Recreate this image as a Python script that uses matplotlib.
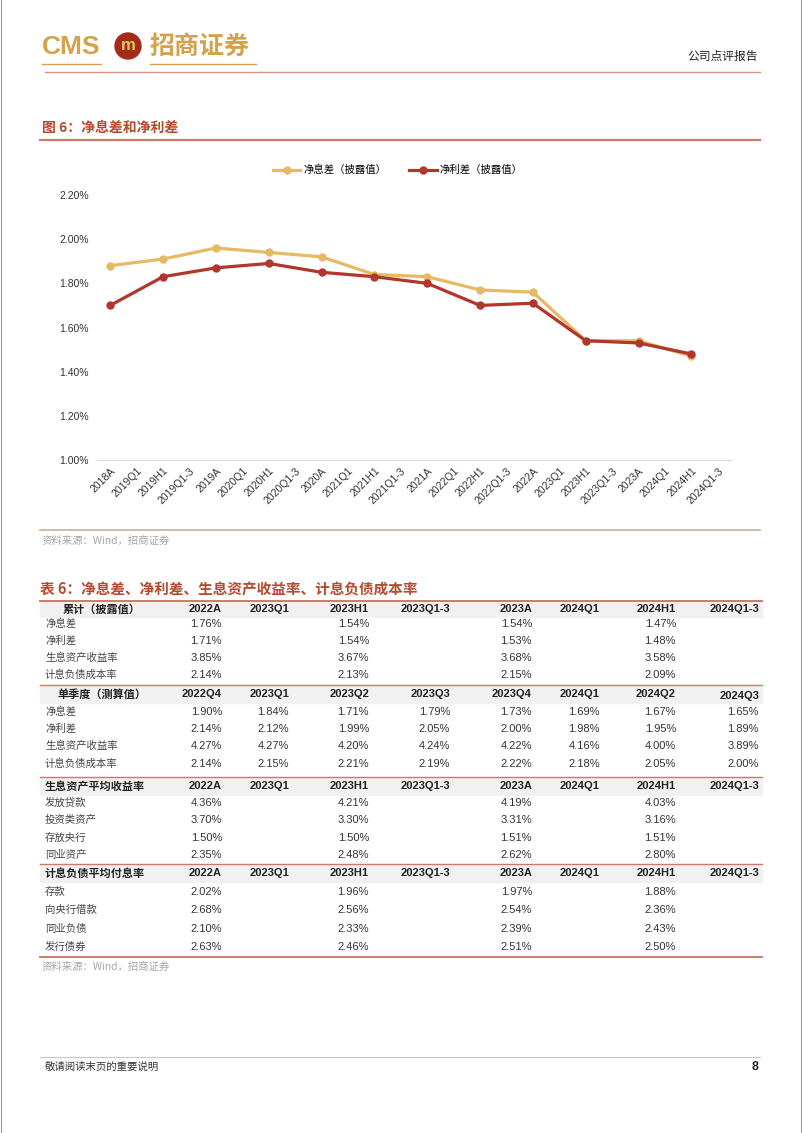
import matplotlib
matplotlib.use("Agg")
import matplotlib.pyplot as plt
from matplotlib.lines import Line2D
from matplotlib.patches import Ellipse, Rectangle
import numpy as np

plt.rcParams['font.family'] = ['Liberation Sans', 'Noto Sans CJK SC', 'DejaVu Sans']

# ---------------- data ----------------
periods = ['2018A', '2019Q1', '2019H1', '2019Q1-3', '2019A', '2020Q1', '2020H1', '2020Q1-3',
           '2020A', '2021Q1', '2021H1', '2021Q1-3', '2021A', '2022Q1', '2022H1', '2022Q1-3',
           '2022A', '2023Q1', '2023H1', '2023Q1-3', '2023A', '2024Q1', '2024H1', '2024Q1-3']
point_periods = ['2018A', '2019H1', '2019A', '2020H1', '2020A', '2021H1', '2021A',
                 '2022H1', '2022A', '2023H1', '2023A', '2024H1']
nim = [1.88, 1.91, 1.96, 1.94, 1.92, 1.84, 1.83, 1.77, 1.76, 1.54, 1.54, 1.47]
spread = [1.70, 1.83, 1.87, 1.89, 1.85, 1.83, 1.80, 1.70, 1.71, 1.54, 1.53, 1.48]
yticks = [1.00, 1.20, 1.40, 1.60, 1.80, 2.00, 2.20]
series_names = ['净息差（披露值）', '净利差（披露值）']

cum_cols = ['2022A', '2023Q1', '2023H1', '2023Q1-3', '2023A', '2024Q1', '2024H1', '2024Q1-3']
q_cols = ['2022Q4', '2023Q1', '2023Q2', '2023Q3', '2023Q4', '2024Q1', '2024Q2', '2024Q3']

sec1_title = '累计（披露值）'
sec1_labels = ['净息差', '净利差', '生息资产收益率', '计息负债成本率']
sec1_vals = [['1.76%', '', '1.54%', '', '1.54%', '', '1.47%', ''],
             ['1.71%', '', '1.54%', '', '1.53%', '', '1.48%', ''],
             ['3.85%', '', '3.67%', '', '3.68%', '', '3.58%', ''],
             ['2.14%', '', '2.13%', '', '2.15%', '', '2.09%', '']]

sec2_title = '单季度（测算值）'
sec2_labels = ['净息差', '净利差', '生息资产收益率', '计息负债成本率']
sec2_vals = [['1.90%', '1.84%', '1.71%', '1.79%', '1.73%', '1.69%', '1.67%', '1.65%'],
             ['2.14%', '2.12%', '1.99%', '2.05%', '2.00%', '1.98%', '1.95%', '1.89%'],
             ['4.27%', '4.27%', '4.20%', '4.24%', '4.22%', '4.16%', '4.00%', '3.89%'],
             ['2.14%', '2.15%', '2.21%', '2.19%', '2.22%', '2.18%', '2.05%', '2.00%']]

sec3_title = '生息资产平均收益率'
sec3_labels = ['发放贷款', '投资类资产', '存放央行', '同业资产']
sec3_vals = [['4.36%', '', '4.21%', '', '4.19%', '', '4.03%', ''],
             ['3.70%', '', '3.30%', '', '3.31%', '', '3.16%', ''],
             ['1.50%', '', '1.50%', '', '1.51%', '', '1.51%', ''],
             ['2.35%', '', '2.48%', '', '2.62%', '', '2.80%', '']]

sec4_title = '计息负债平均付息率'
sec4_labels = ['存款', '向央行借款', '同业负债', '发行债券']
sec4_vals = [['2.02%', '', '1.96%', '', '1.97%', '', '1.88%', ''],
             ['2.68%', '', '2.56%', '', '2.54%', '', '2.36%', ''],
             ['2.10%', '', '2.33%', '', '2.39%', '', '2.43%', ''],
             ['2.63%', '', '2.46%', '', '2.51%', '', '2.50%', '']]

# ---------------- layout helpers ----------------
W, H = 802, 1133
fig = plt.figure(figsize=(W / 100, H / 100), dpi=100)
CJK = ['Noto Sans CJK SC', 'DejaVu Sans']
LAT = ['Liberation Sans', 'Noto Sans CJK SC', 'DejaVu Sans']


def fx(x):
    return x / W


def fy(y):
    return 1 - y / H


def hline(x0, x1, y, color, lw):
    fig.add_artist(Line2D([fx(x0), fx(x1)], [fy(y), fy(y)], color=color, lw=lw,
                          transform=fig.transFigure))


def txt(x, y, s, size, color='#222222', ha='left', weight='normal', family=CJK):
    fig.text(fx(x), fy(y), s, fontsize=size, color=color, ha=ha, va='center',
             weight=weight, family=family)


GOLD = '#D4A24C'
NIM_C = '#E7B963'
SPR_C = '#B1362B'
TITLE_C = '#B64A30'
RULE_C = '#CF7A68'

# page edges
fig.add_artist(Line2D([fx(1), fx(1)], [0, 1], color='#9a9a9a', lw=0.8, transform=fig.transFigure))
fig.add_artist(Line2D([fx(800.5), fx(800.5)], [0, 1], color='#9a9a9a', lw=0.8, transform=fig.transFigure))

# ---------------- header ----------------
txt(42, 47, 'CMS', 19, color=GOLD, weight='bold', family=LAT)
fig.add_artist(Ellipse((fx(128), fy(46)), 26 / W, 26 / H, color='#A22C1C', transform=fig.transFigure))
txt(128, 46, 'm', 12, color='#F0C45A', ha='center', weight='bold', family=LAT)
txt(150, 47, '招商证券', 18, color=GOLD, weight='bold')
hline(42, 101, 64, GOLD, 1.0)
hline(150, 256, 64, GOLD, 1.0)
txt(758, 56, '公司点评报告', 8.5, color='#222222', ha='right')
hline(45, 760, 72, '#D9957F', 1.0)

# ---------------- chart title ----------------
txt(42, 128, '图 6：净息差和净利差', 10, color=TITLE_C, weight='bold')
hline(40, 760, 139.5, RULE_C, 1.6)

# ---------------- chart ----------------
ax = fig.add_axes([fx(97), fy(460), (731 - 97) / W, (460 - 195) / H])
xpos = np.arange(len(periods))
pidx = [periods.index(p) for p in point_periods]
ax.plot(pidx, nim, color=NIM_C, lw=2.3, marker='o', ms=5, label=series_names[0], zorder=3)
ax.plot(pidx, spread, color=SPR_C, lw=2.3, marker='o', ms=5, label=series_names[1], zorder=4)
ax.set_xlim(-0.5, len(periods) - 0.5)
ax.set_ylim(1.0, 2.2)
ax.set_yticks(yticks)
ax.set_yticklabels([f'{v:.2f}%' for v in yticks], fontsize=7.5, color='#333333')
ax.set_xticks(xpos)
ax.set_xticklabels(periods, rotation=45, ha='right', rotation_mode='anchor', fontsize=7.5,
                   color='#333333')
for s in ['top', 'right', 'left']:
    ax.spines[s].set_visible(False)
ax.spines['bottom'].set_color('#d9d9d9')
ax.tick_params(length=0, pad=6)
ax.tick_params(axis='x', pad=4)
ax.legend(loc='center', bbox_to_anchor=(fx(398), fy(170)), bbox_transform=fig.transFigure,
          ncol=2, frameon=False, prop={'family': CJK, 'size': 7.5}, handlelength=2.6,
          columnspacing=2.2, handletextpad=0.3)

hline(40, 760, 530, '#CDAE98', 1.2)
txt(42, 541, '资料来源：Wind，招商证券', 7.5, color='#A5A5A5')

# ---------------- table ----------------
txt(40, 590, '表 6：净息差、净利差、生息资产收益率、计息负债成本率', 10.5, color=TITLE_C, weight='bold')
col_right = [222, 289, 369, 450, 532, 600, 676, 759]
sections = [
    (sec1_title, cum_cols, sec1_labels, sec1_vals, 601, 617, [609, 624, 641, 658, 675]),
    (sec2_title, q_cols, sec2_labels, sec2_vals, 685, 703, [694, 712, 729, 746, 764]),
    (sec3_title, cum_cols, sec3_labels, sec3_vals, 777, 795, [786, 803, 820, 838, 855]),
    (sec4_title, cum_cols, sec4_labels, sec4_vals, 864, 882, [873, 892, 910, 929, 947]),
]
for title, cols, labels, vals, ytop, ybot, ys in sections:
    fig.add_artist(Rectangle((fx(40), fy(ybot)), (762 - 40) / W, (ybot - ytop) / H,
                             color='#F1F1F1', transform=fig.transFigure, zorder=0))
    hline(40, 762, ytop, RULE_C, 1.4 if ytop == 601 else 1.0)
    if title == sec1_title or title == sec2_title:
        txt(102, ys[0], title, 8, color='#222222', ha='center', weight='bold')
    else:
        txt(45, ys[0], title, 8, color='#222222', weight='bold')
    for c, xr in zip(cols, col_right):
        txt(xr, ys[0] + (2 if c == '2024Q3' else 0), c, 8, color='#222222', ha='right',
            weight='bold', family=LAT)
    for lab, row, yy in zip(labels, vals, ys[1:]):
        txt(45, yy, lab, 7.5, color='#444444')
        for v, xr in zip(row, col_right):
            if v:
                txt(xr, yy, v, 8, color='#333333', ha='right', family=LAT)
hline(40, 762, 957, RULE_C, 1.4)
txt(42, 967, '资料来源：Wind，招商证券', 7.5, color='#A5A5A5')

# ---------------- footer ----------------
hline(40, 760, 1057, '#C8C8C8', 0.8)
txt(45, 1067, '敬请阅读末页的重要说明', 7.5, color='#333333')
txt(758, 1067, '8', 9, color='#222222', ha='right', weight='bold', family=LAT)

fig.savefig('out.png', dpi=100)
